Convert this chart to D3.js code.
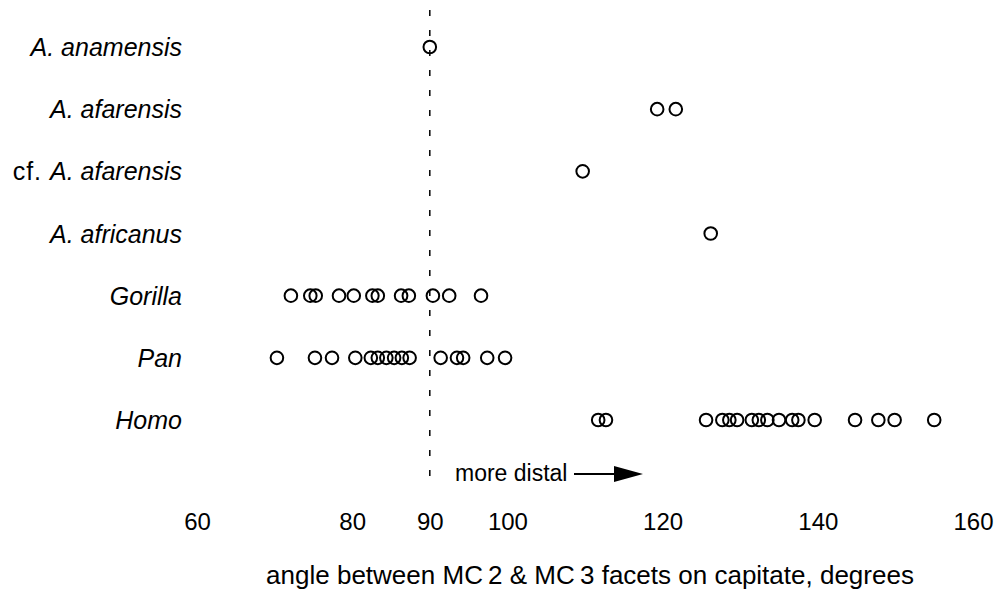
<!DOCTYPE html>
<html>
<head>
<meta charset="utf-8">
<script src="https://cdn.jsdelivr.net/npm/d3@7"></script>
<style>
body{margin:0;background:#fff;}
text{font-family:"Liberation Sans",Arial,Helvetica,sans-serif;fill:#000;}
</style>
</head>
<body>
<script>
// taxa, top to bottom
var taxa=["A. anamensis","A. afarensis","cf. A. afarensis","A. africanus","Gorilla","Pan","Homo"];
var anamensis=[90];
var afarensis=[119.3,121.7];
var cfAfarensis=[109.7];
var africanus=[126.2];
var gorilla=[72.1,74.6,75.3,78.3,80.2,82.6,83.3,86.3,87.3,90.4,92.5,96.6];
var pan=[70.3,75.2,77.4,80.4,82.4,83.3,84.4,85.4,86.4,87.4,91.4,93.5,94.3,97.4,99.7];
var homo=[111.7,112.7,125.6,127.7,128.6,129.6,131.5,132.4,133.5,135.0,136.7,137.5,139.6,144.8,147.8,149.9,155.0];
var tickValues=[60,80,90,100,120,140,160];

var series=[anamensis,afarensis,cfAfarensis,africanus,gorilla,pan,homo];

var width=997, height=596;

var x=d3.scaleLinear()
    .domain([60,160])
    .range([197,973]);

var y=d3.scalePoint()
    .domain(taxa)
    .range([47,420]);

var svg=d3.select("body").append("svg").attr("width",width).attr("height",height);

// reference line at 90 degrees
svg.append("line")
    .attr("x1",x(90)).attr("x2",x(90))
    .attr("y1",10).attr("y2",488)
    .attr("stroke","#000")
    .attr("stroke-width",1.5)
    .attr("stroke-dasharray","6,14");

// row labels (genus/species in italics, "cf." upright)
var labels=svg.append("g").selectAll("text")
    .data(taxa)
    .enter().append("text")
    .attr("x",182)
    .attr("y",function(d){return y(d)+9;})
    .attr("text-anchor","end")
    .attr("font-size",25);
labels.each(function(d){
  var t=d3.select(this);
  if(d.indexOf("cf. ")==0){
    t.append("tspan").attr("letter-spacing",1).text("cf. ");
    t.append("tspan").attr("font-style","italic").text(d.slice(4));
  } else {
    t.append("tspan").attr("font-style","italic").text(d);
  }
});

// points
series.forEach(function(vals,i){
  svg.append("g").selectAll("circle")
    .data(vals)
    .enter().append("circle")
    .attr("cx",function(d){return x(d);})
    .attr("cy",y(taxa[i]))
    .attr("r",6.3)
    .attr("fill","none")
    .attr("stroke","#000")
    .attr("stroke-width",2);
});

// x axis: labels only, no domain line or ticks
var xAxis=d3.axisBottom(x).tickValues(tickValues).tickSize(0).tickPadding(0);
var ax=svg.append("g")
    .attr("transform","translate(0,513)")
    .call(xAxis);
ax.select(".domain").remove();
ax.selectAll("text")
    .attr("font-size",24)
    .attr("font-family","Liberation Sans, Arial, sans-serif")
    .attr("fill","#000");

svg.append("text")
    .attr("x",590)
    .attr("y",584)
    .attr("text-anchor","middle")
    .attr("font-size",26)
    .text("angle between MC\u20092 & MC\u20093 facets on capitate, degrees");

// direction annotation
svg.append("text")
    .attr("x",455)
    .attr("y",481)
    .attr("font-size",23)
    .text("more distal");
svg.append("line")
    .attr("x1",574).attr("x2",618)
    .attr("y1",474).attr("y2",474)
    .attr("stroke","#000")
    .attr("stroke-width",2);
svg.append("path")
    .attr("d","M614,466L643,474L614,482Z")
    .attr("fill","#000");
</script>
</body>
</html>
